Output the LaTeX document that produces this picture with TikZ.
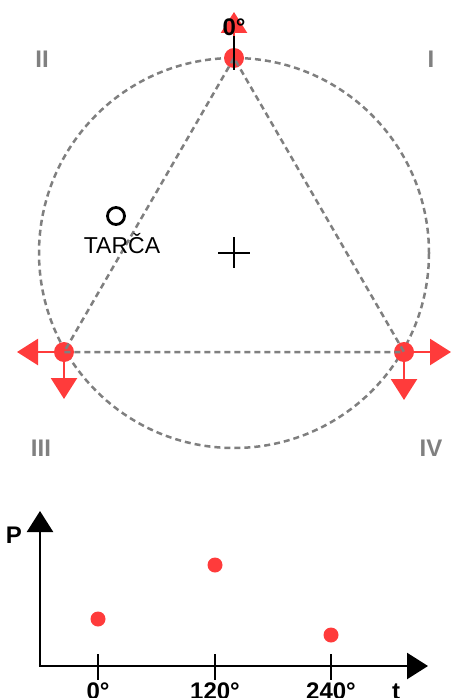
\documentclass[tikz,border=0pt]{standalone}
\usepackage{fontspec}
\setmainfont{Liberation Sans}
\usepackage{tikz}
\usetikzlibrary{arrows.meta}
\definecolor{dotc}{HTML}{FF3B3B}
\definecolor{dashc}{HTML}{7F7F7F}
\definecolor{numc}{HTML}{808080}
\tikzset{
  dot/.style={circle,fill=dotc,inner sep=0pt,minimum size=20pt},
  pdot/.style={circle,fill=dotc,inner sep=0pt,minimum size=15pt},
  dl/.style={dashc,line width=2.5pt,dash pattern=on 6pt off 4pt},
  ra/.style={-{Triangle[length=21pt,width=26pt]},line width=2.5pt,dotc},
  ax/.style={-{Triangle[length=21pt,width=26pt]},line width=2.5pt,black},
  quad/.style={font=\fontsize{24}{24}\selectfont\bfseries,numc,inner sep=0pt},
  lbl/.style={font=\fontsize{24}{24}\selectfont\bfseries,inner sep=0pt}
}

\begin{document}
\begin{tikzpicture}[x=1pt,y=-1pt]
\useasboundingbox (0,0) rectangle (451,698);
\draw[dl] (234,253) circle (195);
\node[dot] (pA) at (234,58) {};
\node[dot] (pB) at (64,352) {};
\node[dot] (pC) at (404,352) {};
\draw[dl] (pA.center) -- (pB.center) -- (pC.center) -- cycle;
\coordinate (tA) at (234,12);
\coordinate (tBl) at (17,352);
\coordinate (tBd) at (64,399);
\coordinate (tCr) at (451,352);
\coordinate (tCd) at (404,400);
\draw[ra] (pA) -- (tA);
\draw[ra] (pB) -- (tBl);
\draw[ra] (pB) -- (tBd);
\draw[ra] (pC) -- (tCr);
\draw[ra] (pC) -- (tCd);
\draw[line width=2.5pt] (234,36) -- (234,70);
\node[lbl] (deg) at (234,27) {0°};
\draw[line width=2pt] (218,253) -- (250,253);
\draw[line width=2pt] (234,237) -- (234,268);
\node[circle,draw,line width=2.8pt,inner sep=0pt,minimum size=17pt] (trg) at (116,216) {};
\node[font=\fontsize{23}{23}\selectfont,inner sep=0pt,anchor=base] (tname) at (122,253) {TARČA};
\node[quad] (q2) at (42,59) {II};
\node[quad] (q1) at (431,59) {I};
\node[quad] (q3) at (41,448) {III};
\node[quad] (q4) at (431,448) {IV};
\coordinate (o) at (40,666);
\coordinate (yT) at (40,511);
\coordinate (xT) at (428,666);
\draw[ax] (o) -- (yT);
\draw[ax] ([xshift=-1.25pt]o) -- (xT);
\node[lbl] (pl) at (14,535) {P};
\node[lbl,anchor=base] (tl) at (396,699) {t};
\foreach \x/\l in {98/0°,215/120°,331/240°}{
  \draw[line width=2.5pt] (\x,654) -- (\x,680);
  \node[lbl,anchor=base] at (\x,699) {\l};
}
\node[pdot] (v1) at (98,619) {};
\node[pdot] (v2) at (215,565) {};
\node[pdot] (v3) at (331,635) {};
\end{tikzpicture}
\end{document}
